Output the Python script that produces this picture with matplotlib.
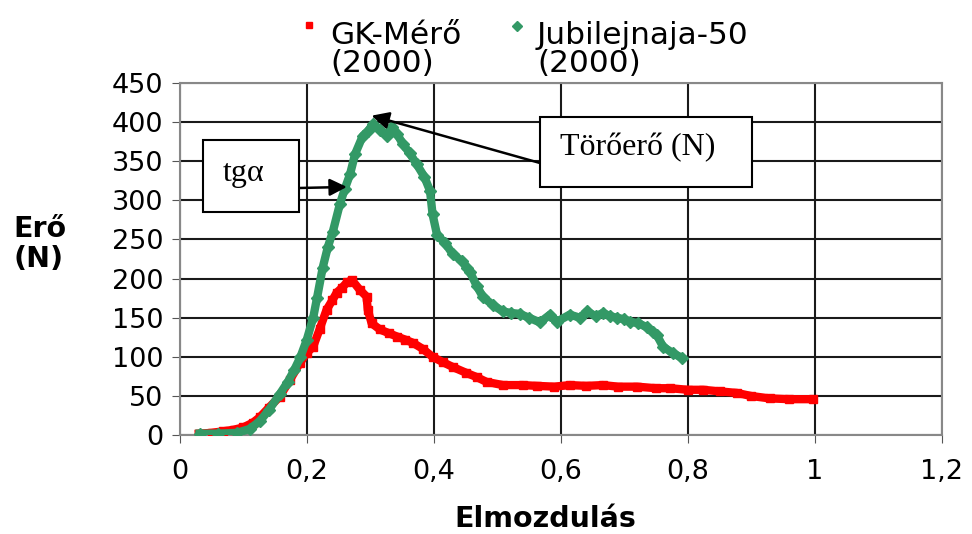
import matplotlib.pyplot as plt
from matplotlib.lines import Line2D
from matplotlib.patches import Rectangle

# GK-Mérő (2000)
gk_x = [0.03, 0.05, 0.068, 0.085, 0.1, 0.115, 0.126, 0.14, 0.157, 0.173, 0.189, 0.2,
        0.21, 0.22, 0.231, 0.24, 0.247, 0.255, 0.263, 0.271, 0.283, 0.294, 0.296, 0.302,
        0.315, 0.33, 0.342, 0.355, 0.367, 0.383, 0.398, 0.415, 0.43, 0.45, 0.468, 0.483,
        0.509, 0.54, 0.562, 0.59, 0.614, 0.64, 0.666, 0.69, 0.72, 0.75, 0.772, 0.8,
        0.824, 0.85, 0.877, 0.9, 0.929, 0.96, 0.997]
gk_y = [2, 3, 5, 7, 10, 16, 23, 35, 49, 70, 92, 105,
        113, 135, 160, 172, 182, 188, 195, 198, 186, 177, 160, 143,
        135, 130, 126, 122, 118, 110, 100, 93, 87, 80, 74, 68,
        64, 64, 63, 62, 64, 63, 64, 62, 62, 60, 60, 58,
        58, 56, 54, 50, 47, 46, 46]

# Jubilejnaja-50 (2000)
jub_x = [0.031, 0.06, 0.09, 0.11, 0.126, 0.14, 0.157, 0.17, 0.18, 0.19, 0.2, 0.21,
         0.216, 0.225, 0.233, 0.241, 0.252, 0.26, 0.268, 0.276, 0.288, 0.296, 0.304,
         0.315, 0.326, 0.334, 0.342, 0.351, 0.362, 0.373, 0.385, 0.394, 0.398, 0.405,
         0.418, 0.43, 0.445, 0.452, 0.457, 0.468, 0.477, 0.493, 0.509, 0.522, 0.535,
         0.55, 0.567, 0.583, 0.594, 0.614, 0.63, 0.641, 0.655, 0.666, 0.678, 0.688,
         0.7, 0.709, 0.722, 0.735, 0.745, 0.751, 0.761, 0.776, 0.79]
jub_y = [2, 2, 3, 8, 18, 32, 52, 68, 83, 100, 122, 150,
         175, 214, 240, 260, 295, 315, 333, 359, 382, 388, 397,
         390, 382, 394, 385, 372, 360, 346, 330, 312, 282, 256,
         245, 231, 222, 214, 208, 190, 177, 166, 158, 156, 155,
         150, 144, 154, 145, 154, 150, 158, 152, 156, 152, 150,
         148, 145, 143, 138, 132, 128, 113, 105, 99]

xticks = [0, 0.2, 0.4, 0.6, 0.8, 1.0, 1.2]
xtick_labels = ['0', '0,2', '0,4', '0,6', '0,8', '1', '1,2']
yticks = list(range(0, 451, 50))

plt.rcParams['font.family'] = ['DejaVu Sans']

fig = plt.figure(figsize=(9.72, 5.34), dpi=100)
ax = fig.add_axes([0.185, 0.185, 0.784, 0.66])

red = '#ff0000'
green = '#339966'

ax.plot(gk_x, gk_y, color=red, lw=6, marker='s', ms=6, zorder=3)
ax.plot(jub_x, jub_y, color=green, lw=6, marker='D', ms=6, zorder=4)

ax.set_xlim(0, 1.2)
ax.set_ylim(0, 450)
ax.set_xticks(xticks)
ax.set_xticklabels(xtick_labels)
ax.set_yticks(yticks)
ax.tick_params(labelsize=19.5, direction='out', length=6, color='#555555')
ax.tick_params(axis='x', pad=11)
ax.tick_params(axis='y', pad=6)
ax.grid(True, color='#1a1a1a', linewidth=1.5)
ax.set_axisbelow(True)

for s in ax.spines.values():
    s.set_color('#888888')
    s.set_linewidth(1.5)

fig.text(545 / 972, 1 - 527 / 534, 'Elmozdulás', fontsize=20.5, fontweight='bold',
         ha='center', va='baseline')
# multi-line text: baseline anchor is the last line
fig.text(13 / 972, 1 - 267 / 534, 'Erő\n(N)', fontsize=20.5, fontweight='bold',
         ha='left', va='baseline', linespacing=1.1)

# legend drawn by hand so the key sits on the first line
fig.lines.append(Line2D([309 / 972], [1 - 25 / 534], marker='s', color=red, ms=5,
                        transform=fig.transFigure))
fig.lines.append(Line2D([517 / 972], [1 - 26 / 534], marker='D', color=green, ms=5,
                        transform=fig.transFigure))
fig.text(330 / 972, 1 - 72 / 534, 'GK-Mérő\n(2000)', fontsize=22.5, ha='left',
         va='baseline', linespacing=0.95)
fig.text(537 / 972, 1 - 72 / 534, 'Jubilejnaja-50\n(2000)', fontsize=22.5, ha='left',
         va='baseline', linespacing=0.95)

# annotation boxes
serif = ['Liberation Serif', 'DejaVu Serif']
fig.patches.append(Rectangle((203 / 972, 1 - 212 / 534), 96 / 972, 72 / 534, fill=True,
                             facecolor='white', edgecolor='black', lw=1.5,
                             transform=fig.transFigure, zorder=5))
fig.text(223 / 972, 1 - 181 / 534, 'tgα', family=serif, fontsize=23, ha='left',
         va='baseline', zorder=6)
fig.patches.append(Rectangle((540 / 972, 1 - 187 / 534), 212 / 972, 70 / 534, fill=True,
                             facecolor='white', edgecolor='black', lw=1.5,
                             transform=fig.transFigure, zorder=5))
fig.text(560 / 972, 1 - 155 / 534, 'Törőerő (N)', family=serif, fontsize=23, ha='left',
         va='baseline', zorder=6)

arrow = dict(arrowstyle='-|>', color='black', lw=1.8, mutation_scale=26, shrinkA=0, shrinkB=0)
ax.annotate('', xy=(0.263, 317), xytext=(299 / 972, 1 - 188 / 534),
            textcoords='figure fraction', arrowprops=arrow, zorder=6)
ax.annotate('', xy=(0.302, 408), xytext=(540 / 972, 1 - 163 / 534),
            textcoords='figure fraction', arrowprops=arrow, zorder=6, annotation_clip=False)

fig.savefig('out.png', dpi=100)
